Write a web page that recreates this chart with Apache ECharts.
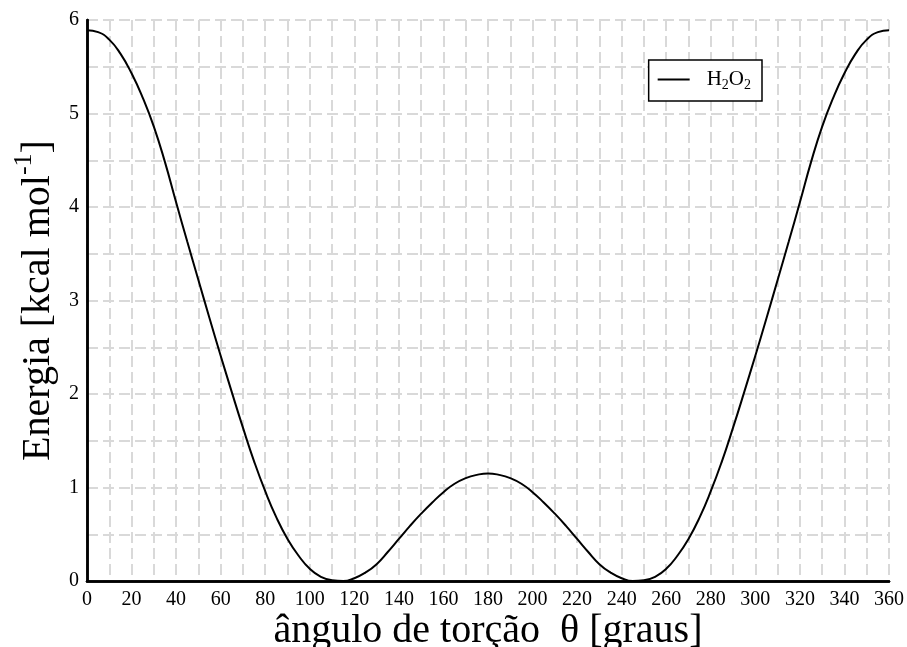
<!DOCTYPE html>
<html>
<head>
<meta charset="utf-8">
<script src="https://cdn.jsdelivr.net/npm/echarts@6/dist/echarts.min.js"></script>
<style>
  html, body { margin: 0; padding: 0; background: #fff; }
  #chart { width: 907px; height: 647px; }
</style>
</head>
<body>
<div id="chart"></div>
<script>
// angulo de torcao (graus)
var angulos = [0, 5, 10, 15, 20, 25, 30, 35, 40, 45, 50, 55, 60, 65, 70, 75, 80, 85, 90,
  95, 100, 105, 110, 115, 120, 125, 130, 135, 140, 145, 150, 155, 160, 165, 170, 175, 180,
  185, 190, 195, 200, 205, 210, 215, 220, 225, 230, 235, 240, 245, 250, 255, 260, 265, 270,
  275, 280, 285, 290, 295, 300, 305, 310, 315, 320, 325, 330, 335, 340, 345, 350, 355, 360];
// energia (kcal/mol)
var energia = [5.89, 5.87, 5.79, 5.64, 5.43, 5.17, 4.86, 4.48, 4.05, 3.63, 3.22, 2.81, 2.41, 2.02, 1.64, 1.28, 0.96, 0.68, 0.45,
  0.27, 0.13, 0.045, 0.008, 0.0, 0.03, 0.09, 0.18, 0.31, 0.45, 0.59, 0.72, 0.84, 0.95, 1.04, 1.10, 1.135, 1.15,
  1.135, 1.10, 1.04, 0.95, 0.84, 0.72, 0.59, 0.45, 0.31, 0.18, 0.09, 0.03, 0.0, 0.008, 0.045, 0.13, 0.27, 0.45,
  0.68, 0.96, 1.28, 1.64, 2.02, 2.41, 2.81, 3.22, 3.63, 4.05, 4.48, 4.86, 5.17, 5.43, 5.64, 5.79, 5.87, 5.89];

var pontos = angulos.map(function (a, i) { return [a, energia[i]]; });

var serif = 'Liberation Serif';
var gridLinha = { color: '#d9d9d9', width: 2, type: [11, 5] };
var moldura = { show: true, lineStyle: { color: '#000', width: 2.5 } };

var chart = echarts.init(document.getElementById('chart'));
chart.setOption({
  animation: false,
  backgroundColor: '#fff',
  grid: { left: 87, right: 18, top: 20, bottom: 66, outerBoundsMode: 'none', containLabel: false },
  legend: {
    right: 145, top: 60,
    data: ['H2O2'],
    icon: 'rect',
    backgroundColor: '#fff',
    borderColor: '#000', borderWidth: 1.5,
    borderRadius: 0,
    padding: [9, 11, 9, 9],
    itemWidth: 32, itemHeight: 2, itemGap: 0,
    formatter: function () { return 'H{s|2}O{s|2}'; },
    textStyle: {
      fontFamily: serif, fontSize: 21, color: '#000', padding: [0, 0, 0, 12],
      rich: { s: { fontFamily: serif, fontSize: 14, color: '#000', padding: [11, 0, 0, 0] } }
    }
  },
  xAxis: [{
    type: 'value', min: 0, max: 360, interval: 20,
    name: 'ângulo de torção  θ [graus]',
    nameLocation: 'middle', nameGap: 30, nameMoveOverlap: false,
    nameTextStyle: { fontFamily: serif, fontSize: 40, color: '#000' },
    axisLine: moldura,
    axisTick: { show: false },
    axisLabel: { fontFamily: serif, fontSize: 20, color: '#000', margin: 9 },
    splitLine: { show: true, lineStyle: gridLinha },
    minorTick: { show: false, splitNumber: 2 },
    minorSplitLine: { show: true, lineStyle: gridLinha }
  }, {
    type: 'value', position: 'top', min: 0, max: 360,
    axisLine: moldura, axisTick: { show: false }, axisLabel: { show: false }, splitLine: { show: false }
  }],
  yAxis: [{
    type: 'value', min: 0, max: 6, interval: 1,
    name: 'Energia [kcal mol{sup|-1}]',
    nameLocation: 'middle', nameGap: 21,
    nameTextStyle: {
      fontFamily: serif, fontSize: 40, color: '#000',
      rich: { sup: { fontFamily: serif, fontSize: 26, color: '#000', padding: [0, 0, 28, 0] } }
    },
    axisLine: moldura,
    axisTick: { show: false },
    axisLabel: { fontFamily: serif, fontSize: 20, color: '#000', margin: 8 },
    splitLine: { show: true, lineStyle: gridLinha },
    minorTick: { show: false, splitNumber: 2 },
    minorSplitLine: { show: true, lineStyle: gridLinha }
  }, {
    type: 'value', position: 'right', min: 0, max: 6,
    axisLine: moldura, axisTick: { show: false }, axisLabel: { show: false }, splitLine: { show: false }
  }],
  series: [{
    name: 'H2O2',
    type: 'line',
    data: pontos,
    symbol: 'none',
    smooth: true,
    lineStyle: { color: '#000', width: 2 },
    itemStyle: { color: '#000' },
    z: 5
  }]
});
</script>
</body>
</html>
